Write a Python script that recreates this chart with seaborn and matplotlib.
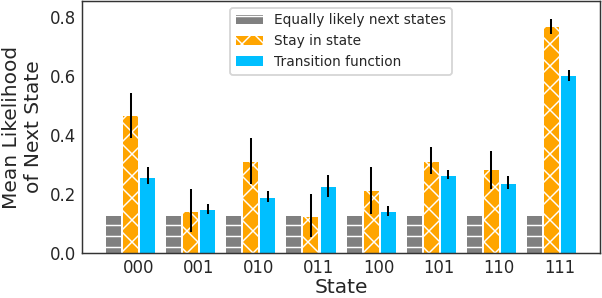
import matplotlib
matplotlib.use("Agg")
import matplotlib.pyplot as plt
import numpy as np
import pandas as pd
import seaborn as sns

states = ["000", "001", "010", "011", "100", "101", "110", "111"]
methods = ["Equally likely next states", "Stay in state", "Transition function"]

equal_mean = [0.125] * 8
stay_mean = [0.465, 0.138, 0.307, 0.121, 0.209, 0.310, 0.280, 0.766]
stay_lo = [0.390, 0.070, 0.233, 0.054, 0.131, 0.267, 0.216, 0.742]
stay_hi = [0.543, 0.216, 0.390, 0.199, 0.293, 0.361, 0.347, 0.792]
trans_mean = [0.256, 0.145, 0.186, 0.223, 0.138, 0.260, 0.233, 0.600]
trans_lo = [0.233, 0.131, 0.172, 0.189, 0.125, 0.250, 0.216, 0.583]
trans_hi = [0.290, 0.165, 0.209, 0.263, 0.158, 0.280, 0.260, 0.620]

colors = ["#808080", "#FFA500", "#00BFFF"]
hatches = ["--", "xx", ""]

df = pd.DataFrame({
    "state": states * 3,
    "method": np.repeat(methods, len(states)),
    "value": equal_mean + stay_mean + trans_mean,
})

sns.set_theme(style="white")
plt.rcParams["hatch.linewidth"] = 0.8

DPI = 132
fig = plt.figure(figsize=(602 / DPI, 298 / DPI), dpi=DPI)
ax = fig.add_axes([0.136, 0.151, 0.861, 0.846])

sns.barplot(data=df, x="state", y="value", hue="method", hue_order=methods,
            palette=colors, saturation=1, width=0.85, gap=0.12, errorbar=None,
            edgecolor="white", linewidth=0, legend=False, ax=ax)

errs = [None, (stay_lo, stay_mean, stay_hi), (trans_lo, trans_mean, trans_hi)]
for cont, h, e in zip(ax.containers, hatches, errs):
    for p in cont.patches:
        p.set_hatch(h)
        p.set_edgecolor("white")
    if e is None:
        continue
    lo, mid, hi = (np.array(v) for v in e)
    xs = [p.get_x() + p.get_width() / 2 for p in cont.patches]
    ax.errorbar(xs, mid, yerr=[mid - lo, hi - mid], fmt="none",
                ecolor="black", elinewidth=1.1, capsize=0, zorder=5)

ax.legend(ax.containers, methods, loc="upper center", fontsize=7.5,
          frameon=True, handlelength=2.0)

ax.set_xticks(np.arange(len(states)) + 0.133, states)
ax.set_xlim(-0.81, 7.81)
ax.set_ylim(0, 0.855)
ax.tick_params(labelsize=9, colors=".15", length=0, pad=3)
ax.set_xlabel("State", fontsize=11, labelpad=1)
ax.set_ylabel("Mean Likelihood\nof Next State", fontsize=11)
for s in ax.spines.values():
    s.set_linewidth(0.8)
    s.set_color(".2")

fig.savefig("out.png", dpi=DPI)
